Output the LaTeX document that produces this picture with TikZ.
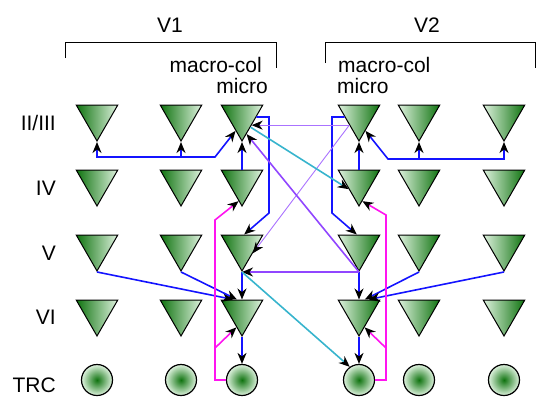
\documentclass[tikz,border=0pt]{standalone}
\usepackage{fontspec}
\setmainfont{Liberation Sans}
\usetikzlibrary{arrows.meta,shapes,positioning}
\definecolor{gdark}{RGB}{15,115,15}
\definecolor{glight}{RGB}{222,242,222}
\definecolor{lblue}{RGB}{20,20,255}
\definecolor{lmag}{RGB}{255,20,240}
\definecolor{lviolet}{RGB}{145,70,255}
\definecolor{lvthin}{RGB}{170,115,255}
\definecolor{lcyan}{RGB}{55,180,205}
\tikzset{
  pyr/.style    = {draw, line width=1pt, regular polygon, regular polygon sides=3,
                   shape border rotate=180, minimum size=48pt, inner sep=0pt},
  pyrL/.style   = {pyr, left color=gdark, right color=glight},
  pyrR/.style   = {pyr, left color=glight, right color=gdark},
  trc/.style    = {draw, line width=1.2pt, circle, minimum size=31pt, inner sep=0pt,
                   inner color=gdark, outer color=glight},
  txt/.style    = {font=\fontsize{21}{24}\selectfont, inner sep=0pt},
  layer/.style  = {txt, anchor=base east},
  blueln/.style = {draw=lblue, line width=1.6pt},
  magln/.style  = {draw=lmag, line width=1.6pt},
  violn/.style  = {draw=lviolet, line width=1.6pt},
  vthin/.style  = {draw=lvthin, line width=0.9pt},
  cyanln/.style = {draw=lcyan, line width=1.6pt}
}

\begin{document}
\begin{tikzpicture}[x=1pt, y=-1pt, on grid,
  >={Stealth[black, length=11pt, width=9pt, inset=3.5pt]}]
\useasboundingbox (0,0) rectangle (554,413);

% area brackets and titles
\draw[line width=1pt] (65,58) -- (65,42) -- (276,42) -- (276,68);
\draw[line width=1pt] (325,63) -- (325,42) -- (535,42) -- (535,68);
\node[txt, anchor=base] (v1) at (170,32) {V1};
\node[txt, anchor=base] (v2) at (427,32) {V2};
\node[txt, anchor=base east] (mc1) at (262,72) {macro-col};
\node[txt, anchor=base east] (mi1) at (268,93) {micro};
\node[txt, anchor=base west] (mc2) at (338,72) {macro-col};
\node[txt, anchor=base west] (mi2) at (337,93) {micro};

% layer names
\node[layer] (n23) at (56,130) {II/III};
\node[layer] (n4) at (56,195) {IV};
\node[layer] (n5) at (56,260) {V};
\node[layer] (n6) at (56,324) {VI};
\node[layer] (ntrc) at (56,392) {TRC};

% V1 columns, relatively positioned
\begin{scope}[every node/.style={pyrL}]
\node (l1r2) at (97,117) {};
\node (l2r2) at (181,117) {};
\node (l3r2) at (242,117) {};
\node [below=65pt of l1r2] (l1r4) {};
\node [below=65pt of l1r4] (l1r5) {};
\node [below=65pt of l1r5] (l1r6) {};
\node [below=65pt of l2r2] (l2r4) {};
\node [below=65pt of l2r4] (l2r5) {};
\node [below=65pt of l2r5] (l2r6) {};
\node [below=65pt of l3r2] (l3r4) {};
\node [below=65pt of l3r4] (l3r5) {};
\node [below=65pt of l3r5] (l3r6) {};
\end{scope}

% V2 columns
\begin{scope}[every node/.style={pyrR}]
\node (r1r2) at (359,117) {};
\node (r2r2) at (419,117) {};
\node (r3r2) at (504,117) {};
\node [below=65pt of r1r2] (r1r4) {};
\node [below=65pt of r1r4] (r1r5) {};
\node [below=65pt of r1r5] (r1r6) {};
\node [below=65pt of r2r2] (r2r4) {};
\node [below=65pt of r2r4] (r2r5) {};
\node [below=65pt of r2r5] (r2r6) {};
\node [below=65pt of r3r2] (r3r4) {};
\node [below=65pt of r3r4] (r3r5) {};
\node [below=65pt of r3r5] (r3r6) {};
\end{scope}

% thalamic relay cells
\begin{scope}[every node/.style={trc}]
\node [below=68pt of l1r6] (l1t) {};
\node [below=68pt of l2r6] (l2t) {};
\node [below=68pt of l3r6] (l3t) {};
\node [below=68pt of r1r6] (r1t) {};
\node [below=68pt of r2r6] (r2t) {};
\node [below=68pt of r3r6] (r3t) {};
\end{scope}

% bends
\coordinate (v1bus) at (215,157);
\coordinate (v2bus) at (388,159);
\coordinate (v1mag) at (215,348);
\coordinate (v2mag) at (386,348);

% V1 wiring
\draw[blueln, <->] (l1r2.corner 1) |- (v1bus) -- (l3r2.245);
\draw[blueln, ->] (l2r2.corner 1 |- v1bus) -- (l2r2.corner 1);
\draw[blueln, ->] (l3r4.90) -- (l3r2.corner 1);
\draw[blueln, ->] (l3r2.0) -| (269,213) -- (l3r5.80);
\draw[blueln, ->] (l3r5.corner 1) -- (l3r6.90);
\draw[blueln, ->] (l1r5.corner 1) -- (l3r6.125);
\draw[blueln, ->] (l2r5.corner 1) -- (l3r6.112);
\draw[blueln, ->] (l3r6.corner 1) -- (l3t.north);
\draw[magln, ->] (l3t.west) -| (215,220) -- (l3r4.260);
\draw[magln, ->] (v1mag) -- (l3r6.250);

% V2 wiring
\draw[blueln, <->] (r1r2.295) -- (v2bus) -| (r3r2.corner 1);
\draw[blueln, ->] (r2r2.corner 1 |- v2bus) -- (r2r2.corner 1);
\draw[blueln, ->] (r1r4.90) -- (r1r2.corner 1);
\draw[blueln, ->] (r1r2.180) -| (332,213) -- (r1r5.100);
\draw[blueln, ->] (r1r5.corner 1) -- (r1r6.90);
\draw[blueln, ->] (r2r5.corner 1) -- (r1r6.65);
\draw[blueln, ->] (r3r5.corner 1) -- (r1r6.52);
\draw[blueln, ->] (r1r6.corner 1) -- (r1t.north);
\draw[magln, ->] (r1t.east) -| (386,215) -- (r1r4.280);
\draw[magln, ->] (v2mag) -- (r1r6.290);

% between areas
\draw[vthin, ->] (r1r2.220) -- (l3r2.320);
\draw[vthin, ->] (r1r2.220) -- (l3r5.330);
\draw[cyanln, ->] (l3r2.310) -- (r1r4.215);
\draw[violn, ->] (r1r5.corner 1) -- (l3r2.285);
\draw[violn, ->] (r1r5.corner 1) -- (l3r5.corner 1);
\draw[cyanln, ->] (l3r5.corner 1) -- (r1t.125);
\end{tikzpicture}
\end{document}
